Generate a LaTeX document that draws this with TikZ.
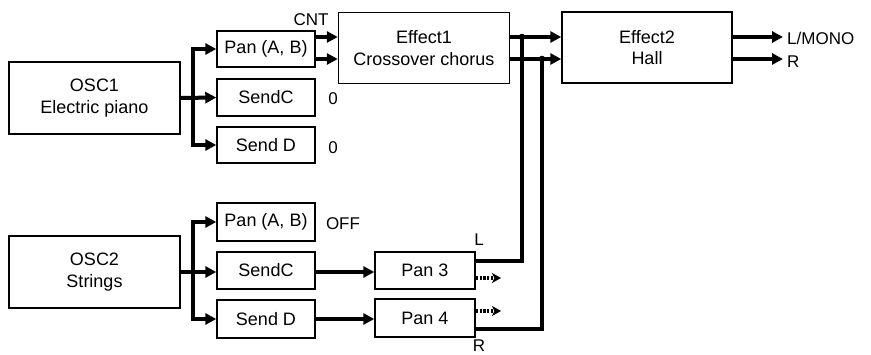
\documentclass[tikz,border=0pt]{standalone}
\usepackage{fontspec}
\setmainfont{Liberation Sans}
\usetikzlibrary{arrows.meta}
\begin{document}
\begin{tikzpicture}[x=1pt,y=-1pt,
  font=\fontsize{18}{21.5}\selectfont,
  box/.style={draw,line width=1.4pt,align=center,inner sep=0pt},
  sig/.style={line width=4pt,line join=miter},
  arr/.style={sig,-{Triangle[length=11pt,width=11pt]}},
  darr/.style={line width=3.5pt,dash pattern=on 2.2pt off 1.6pt,-{Stealth[length=9pt,width=10pt,inset=2.5pt]}},
  lab/.style={inner sep=0pt,font=\fontsize{17}{20}\selectfont}]
\useasboundingbox (0,0) rectangle (871,355);
% boxes
\node[box,minimum width=171pt,minimum height=72pt] (osc1) at (94.5,98) {OSC1\\Electric piano};
\node[box,minimum width=171pt,minimum height=72pt] (osc2) at (94.5,272) {OSC2\\Strings};
\node[box,minimum width=98pt,minimum height=36pt] (pan1) at (266,49) {Pan (A, B)};
\node[box,minimum width=98pt,minimum height=37pt] (sendc1) at (266,97.5) {SendC};
\node[box,minimum width=98pt,minimum height=36pt] (sendd1) at (266,145) {Send D};
\node[box,minimum width=98pt,minimum height=38pt] (pan2) at (266,222) {Pan (A, B)};
\node[box,minimum width=98pt,minimum height=37pt] (sendc2) at (266,270.5) {SendC};
\node[box,minimum width=98pt,minimum height=38pt] (sendd2) at (266,319) {Send D};
\node[box,minimum width=171pt,minimum height=71pt] (eff1) at (424,48) {Effect1\\Crossover chorus};
\node[box,minimum width=170pt,minimum height=71pt] (eff2) at (647,47.5) {Effect2\\Hall};
\node[box,minimum width=100pt,minimum height=37pt] (pan3) at (425,270.5) {Pan 3};
\node[box,minimum width=100pt,minimum height=38pt] (pan4) at (425,318) {Pan 4};
% helper coordinates
\coordinate (yL) at (0,37);
\coordinate (yR) at (0,59);
\coordinate (b1) at (193,98);
\coordinate (b2) at (193,272);
\coordinate (jL) at (522,37);
\coordinate (jR) at (542,59);
\coordinate (p3o) at (475,261);
\coordinate (p4o) at (475,329);
\coordinate (d3) at (501,278);
\coordinate (d4) at (501,311);
\coordinate (outL) at (783,37);
\coordinate (outR) at (783,59);
% OSC1 branch
\draw[arr] (osc1.east |- b1) -- (sendc1.west);
\draw[arr] (b1) |- (pan1.west);
\draw[arr] (b1) |- (sendd1.west);
% OSC2 branch
\draw[arr] (osc2.east |- b2) -- (sendc2.west |- b2);
\draw[arr] (b2) |- (pan2.west);
\draw[arr] (b2) |- (sendd2.west);
% Pan1 to Effect1
\draw[arr] (pan1.east |- yL) -- (eff1.west |- yL);
\draw[arr] (pan1.east |- yR) -- (eff1.west |- yR);
% Effect1 to Effect2
\draw[arr] (eff1.east |- yL) -- (eff2.west |- yL);
\draw[arr] (eff1.east |- yR) -- (eff2.west |- yR);
% sends to pans
\draw[arr] (sendc2.east |- b2) -- (pan3.west |- b2);
\draw[arr] (sendd2.east) -- (pan4.west |- sendd2.east);
% pan outputs up
\draw[sig] (p3o) -| (jL);
\draw[sig] (p4o) -| (jR);
\fill (jL) circle (3.3pt);
\fill (jR) circle (3.3pt);
% dotted arrows
\draw[darr] (pan3.east |- d3) -- (d3);
\draw[darr] (pan4.east |- d4) -- (d4);
% Effect2 outputs
\draw[arr] (eff2.east |- yL) -- (outL);
\draw[arr] (eff2.east |- yR) -- (outR);
% labels
\node[lab] (cnt) at (311,20) {CNT};
\node[lab] (z1) at (333,99) {0};
\node[lab] (z2) at (333,148) {0};
\node[lab] (off) at (343,224) {OFF};
\node[lab] (lL) at (479,240) {L};
\node[lab,anchor=base] (lR) at (479,352) {R};
\node[lab,anchor=west] (lmono) at (787,38) {L/MONO};
\node[lab,anchor=west] (rr) at (787,62) {R};
\end{tikzpicture}
\end{document}
